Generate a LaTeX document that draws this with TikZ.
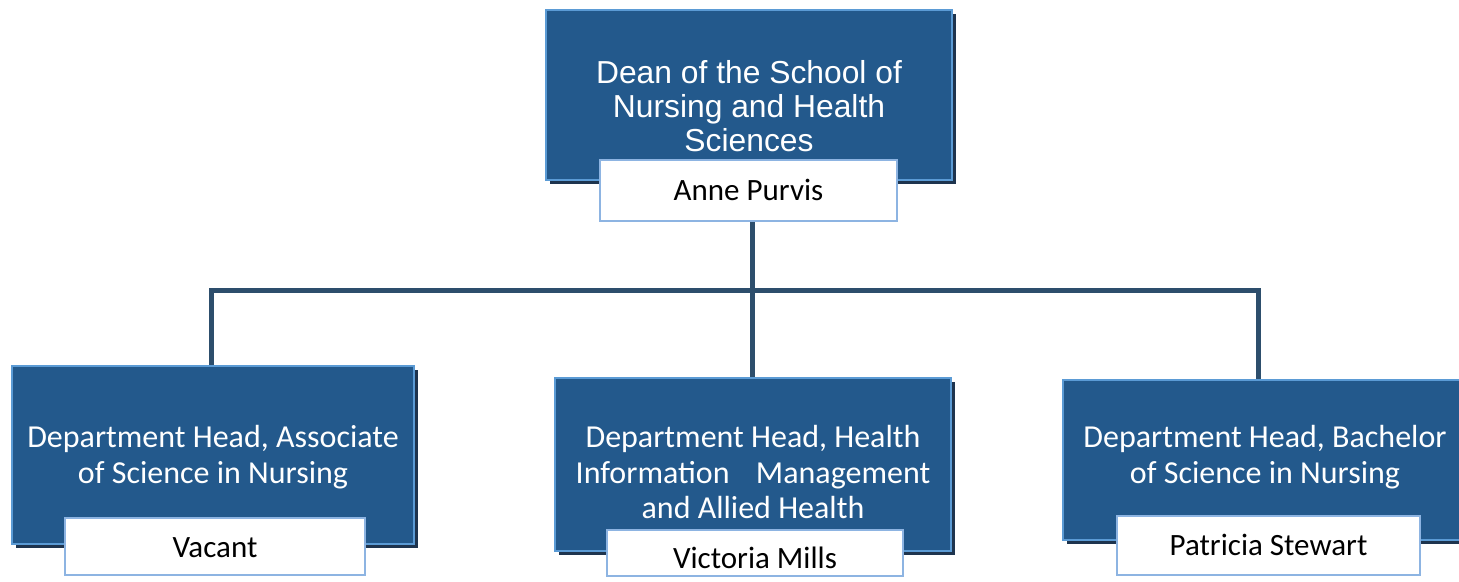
\documentclass[tikz,border=0pt]{standalone}
\usepackage{fontspec}
\setmainfont{Carlito}
\newfontfamily\arialfont{Liberation Sans}
\usetikzlibrary{shadows,backgrounds}
\definecolor{boxblue}{RGB}{35,89,140}
\definecolor{rimblue}{RGB}{91,155,213}
\definecolor{shadeblue}{RGB}{30,52,78}
\definecolor{linkblue}{RGB}{45,78,108}
\definecolor{nameline}{RGB}{141,180,226}
\tikzset{
  unitbox/.style={rectangle,draw=rimblue,line width=2.5pt,fill=boxblue,inner sep=0pt,
    drop shadow={shadow xshift=4pt,shadow yshift=-4pt,fill=shadeblue,opacity=1}},
  namebox/.style={rectangle,draw=nameline,line width=1.3pt,fill=white,inner sep=0pt},
  unittext/.style={text=white,align=center,inner sep=0pt,font=\fontsize{32}{35.5}\selectfont},
  deantext/.style={text=white,align=center,inner sep=0pt,font=\arialfont\fontsize{31.8}{34}\selectfont},
  nametext/.style={text=black,inner sep=0pt,font=\fontsize{31}{36}\selectfont},
  link/.style={draw=linkblue,line width=5pt}
}
\begin{document}
\begin{tikzpicture}[x=1pt,y=-1pt]
          \useasboundingbox (0,0) rectangle (1459,581);
          \clip (0,0) rectangle (1459,581);
          \node[unitbox,minimum width=406pt,minimum height=170pt] (dean) at (749,95) {};
          \node[deantext] (deanlbl) at (749,106) {Dean of the School of\\Nursing and Health\\Sciences};
          \node[namebox,minimum width=297pt,minimum height=61pt] (purvis) at (748.5,190.5) {};
          \node[nametext] (purvislbl) at (748.5,190) {Anne Purvis};
          \node[unitbox,minimum width=402pt,minimum height=178pt] (assoc) at (213,455) {};
          \node[unittext] (assoclbl) at (213,457) {Department Head, Associate\\of Science in Nursing};
          \node[namebox,minimum width=300pt,minimum height=57pt] (vacant) at (215,546.5) {};
          \node[nametext] (vacantlbl) at (215,548) {Vacant};
          \node[unitbox,minimum width=396pt,minimum height=173pt] (him) at (753,464.5) {};
          \node[unittext] (himlbl) at (753,472) {Department Head, Health\\Information\hspace{0.6em} Management\\and Allied Health};
          \node[namebox,minimum width=296pt,minimum height=46pt] (mills) at (755,553) {};
          \node[nametext] (millslbl) at (755,558) {Victoria Mills};
          \node[unitbox,minimum width=404pt,minimum height=160pt] (bach) at (1265,460) {};
          \node[unittext] (bachlbl) at (1265,457) {Department Head, Bachelor\\of Science in Nursing};
          \node[namebox,minimum width=303pt,minimum height=59pt] (stewart) at (1268.5,545.5) {};
          \node[nametext] (stewartlbl) at (1268.5,545) {Patricia Stewart};
          \coordinate (hub) at (752,290);
          \coordinate (assoctop) at (211,365);
          \coordinate (bachtop) at (1258,380);
          \begin{scope}[on background layer]
            \draw[link] (hub |- purvis.south) -- (hub);
            \draw[link] (assoctop) |- (hub) -| (bachtop);
            \draw[link] (hub) -- (hub |- him.north);
          \end{scope}
        \end{tikzpicture}
\end{document}
